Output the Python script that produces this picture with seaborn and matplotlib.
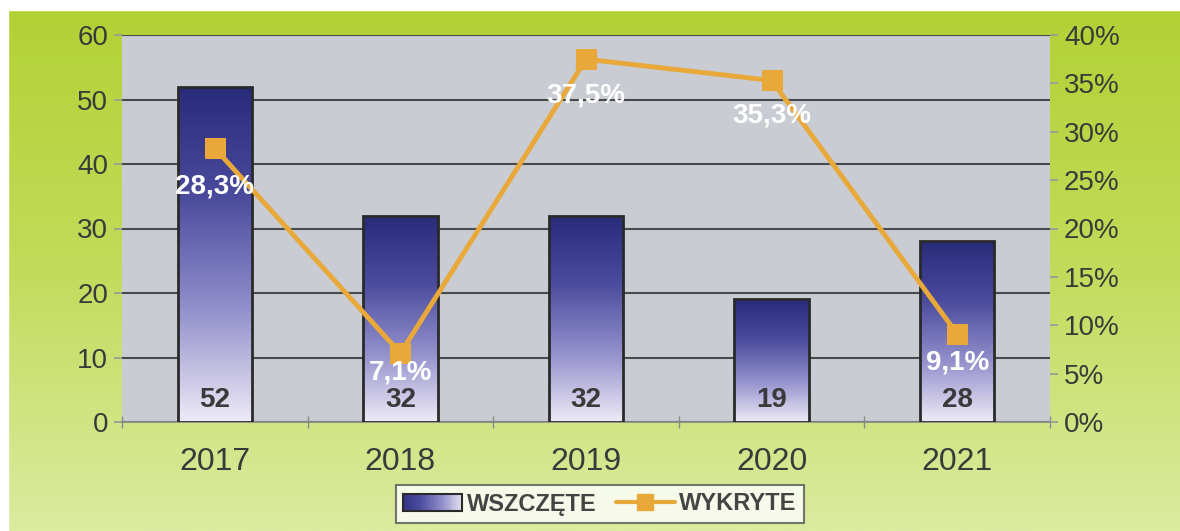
import numpy as np
import pandas as pd
import matplotlib
matplotlib.use("Agg")
import matplotlib.pyplot as plt
import matplotlib.colors as mcolors
from matplotlib.patches import Rectangle
from matplotlib.lines import Line2D
from matplotlib.legend_handler import HandlerBase
from matplotlib.ticker import FuncFormatter, MultipleLocator
import seaborn as sns

# Data
years = ["2017", "2018", "2019", "2020", "2021"]
wszczete = [52, 32, 32, 19, 28]
wykryte = [28.3, 7.1, 37.5, 35.3, 9.1]
wykryte_labels = ["28,3%", "7,1%", "37,5%", "35,3%", "9,1%"]

df = pd.DataFrame({"rok": years, "wszczete": wszczete, "wykryte": wykryte})

sns.set_theme(style="white")
plt.rcParams["font.family"] = ["Liberation Sans", "DejaVu Sans"]

# light at the bottom, navy at the top
bar_cmap = mcolors.LinearSegmentedColormap.from_list("bar", ["#eeeaf6", "#9390cc", "#4c4c9e", "#282a7a"])
text_gray = "#3a3a3a"
line_color = "#e9a93a"

fig = plt.figure(figsize=(11.8, 5.31), dpi=100)

# green gradient background
bg = fig.add_axes([0, 0, 1, 1], zorder=-10)
grad = np.linspace(0, 1, 256).reshape(-1, 1)
bg_cmap = mcolors.LinearSegmentedColormap.from_list("bg", ["#b2d133", "#c2db5a", "#dbeba0"])
bg.imshow(grad, aspect="auto", cmap=bg_cmap, extent=[0, 1, 0, 1], origin="upper")
bg.add_patch(Rectangle((0, 1 - 10 / 531), 1, 10 / 531, color="white", zorder=2))
bg.add_patch(Rectangle((0, 0), 8 / 1180, 1, color="white", zorder=2))
bg.set_xlim(0, 1)
bg.set_ylim(0, 1)
bg.axis("off")

ax = fig.add_axes([122 / 1180, 109 / 531, 928 / 1180, 387 / 531])
ax.set_facecolor("#c9ccd2")

sns.barplot(data=df, x="rok", y="wszczete", ax=ax, width=0.4,
            color="#2b2d7c", edgecolor="#2a2a2a", linewidth=2, zorder=3)

# vertical gradient inside each bar
for p in ax.patches:
    x0, y0 = p.get_x(), p.get_y()
    w, h = p.get_width(), p.get_height()
    im = ax.imshow(grad, aspect="auto", cmap=bar_cmap, origin="lower",
                   extent=[x0, x0 + w, y0, y0 + h], zorder=3.5)
    im.set_clip_path(p)
    p.set_facecolor("none")
    p.set_zorder(4)

ax.set_xlim(-0.5, 4.5)
ax.set_ylim(0, 60)
ax.yaxis.set_major_locator(MultipleLocator(10))
ax.grid(axis="y", color="#4a4a4a", linewidth=1.5, zorder=1)
ax.set_axisbelow(True)
for s in ["top", "right", "left"]:
    ax.spines[s].set_visible(False)
ax.spines["bottom"].set_color("#8a8a8a")
ax.set_xlabel("")
ax.set_ylabel("")
ax.tick_params(axis="y", labelsize=20, labelcolor=text_gray, length=6, color="#9a9a9a",
               left=True, pad=4)
ax.tick_params(axis="x", labelsize=23, labelcolor=text_gray, length=0, pad=18)
ax.set_xticks(np.arange(-0.5, 5, 1), minor=True)
ax.tick_params(axis="x", which="minor", length=8, color="#8a8a8a", direction="inout", bottom=True)

for i, v in enumerate(wszczete):
    ax.text(i, 3.4, str(v), ha="center", va="center", fontsize=20, fontweight="bold",
            color=text_gray, zorder=6)

# line on secondary axis
ax2 = ax.twinx()
sns.lineplot(x=np.arange(len(years)), y=wykryte, ax=ax2, color=line_color, linewidth=3.5,
             marker="s", markersize=14, markeredgecolor=line_color, zorder=5)
ax2.set_ylim(0, 40)
ax2.set_xlim(-0.5, 4.5)
ax2.yaxis.set_major_locator(MultipleLocator(5))
ax2.yaxis.set_major_formatter(FuncFormatter(lambda v, _: f"{v:.0f}%"))
ax2.tick_params(axis="y", labelsize=20, labelcolor=text_gray, length=6, color="#9a9a9a",
                right=True, pad=4)
for s in ax2.spines.values():
    s.set_visible(False)
ax2.set_ylabel("")

offsets = [(0, -4.0), (0, -2.0), (0, -3.8), (0, -3.6), (0, -2.9)]
for i, (v, lab) in enumerate(zip(wykryte, wykryte_labels)):
    dx, dy = offsets[i]
    ax2.text(i + dx, v + dy, lab, ha="center", va="center", fontsize=20, fontweight="bold",
             color="white", zorder=7)


class GradientHandler(HandlerBase):
    def create_artists(self, legend, orig_handle, xdescent, ydescent, width, height,
                       fontsize, trans):
        artists = []
        n = 30
        cols = bar_cmap(np.linspace(0.9, 0.05, n))
        for k in range(n):
            r = Rectangle((-xdescent + k * width / n, -ydescent), width / n, height,
                          facecolor=cols[k], edgecolor="none", transform=trans)
            artists.append(r)
        artists.append(Rectangle((-xdescent, -ydescent), width, height, facecolor="none",
                                 edgecolor="#2a2a2a", linewidth=1.5, transform=trans))
        return artists


bar_handle = Rectangle((0, 0), 1, 1)
line_handle = Line2D([], [], color=line_color, linewidth=3, marker="s", markersize=12)
leg = fig.legend([bar_handle, line_handle], ["WSZCZĘTE", "WYKRYTE"],
                 handler_map={Rectangle: GradientHandler()},
                 loc="center", bbox_to_anchor=(600 / 1180, 1 - 504 / 531), ncol=2,
                 frameon=True, fancybox=False, edgecolor="#555555",
                 prop={"size": 17, "weight": "bold"}, handlelength=2.5, handletextpad=0.2,
                 columnspacing=0.8, borderpad=0.3, borderaxespad=0.2)
leg.get_frame().set_linewidth(1.5)
leg.get_frame().set_facecolor("white")
for t in leg.get_texts():
    t.set_color("#444444")

fig.savefig("out.png", dpi=100)
